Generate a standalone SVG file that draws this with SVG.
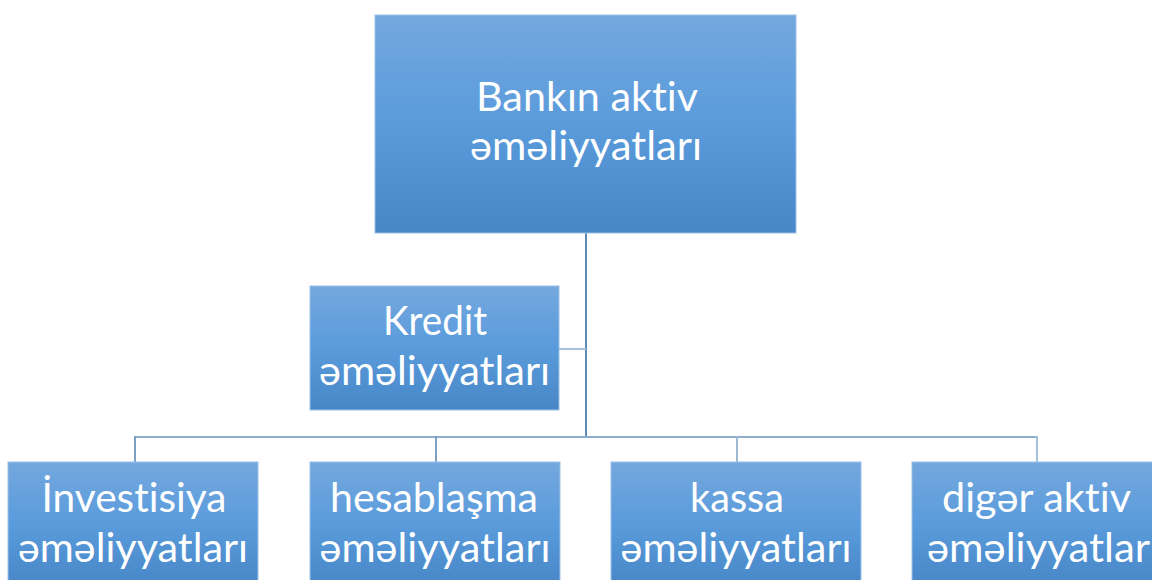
<svg xmlns="http://www.w3.org/2000/svg" width="1152" height="580" viewBox="0 0 1152 580">
  <defs>
    <linearGradient id="g" x1="0" y1="0" x2="0" y2="1">
      <stop offset="0" stop-color="#74a8de"/>
      <stop offset="0.5" stop-color="#5a9bdc"/>
      <stop offset="1" stop-color="#4787c8"/>
    </linearGradient>
    <style>
      .box { fill: url(#g); stroke: #9cc0e6; stroke-width: 1; }
      .t { font-family: Lato, "Open Sans", "Liberation Sans", sans-serif; font-size: 40px; fill: #ffffff; text-anchor: middle; font-variant-ligatures: none; font-feature-settings: "liga" 0, "dlig" 0; }
      .c { fill: none; stroke-width: 2; }
    </style>
  </defs>
  <rect width="1152" height="580" fill="#ffffff"/>
  <g id="connectors">
    <line class="c" x1="586" y1="233" x2="586" y2="438" stroke="#5f89b6"/>
    <line class="c" x1="559" y1="349" x2="586" y2="349" stroke="#a6c0d9"/>
    <line class="c" x1="135" y1="437" x2="1038" y2="437" stroke="#8eaed0"/>
    <line class="c" x1="135" y1="436" x2="135" y2="462" stroke="#7c9fc4"/>
    <line class="c" x1="436" y1="436" x2="436" y2="462" stroke="#7c9fc4"/>
    <line class="c" x1="737" y1="436" x2="737" y2="462" stroke="#9db9d6"/>
    <line class="c" x1="1037" y1="436" x2="1037" y2="462" stroke="#a6c0d9"/>
  </g>
  <g id="root">
    <rect class="box" x="375" y="15" width="421" height="218"/>
    <text class="t" x="587" y="111" textLength="222" lengthAdjust="spacingAndGlyphs">Bankın aktiv</text>
    <text class="t" x="586" y="160" textLength="232" lengthAdjust="spacingAndGlyphs">əməliyyatları</text>
  </g>
  <g id="kredit">
    <rect class="box" x="310" y="286" width="249" height="124"/>
    <text class="t" x="435" y="335" textLength="104" lengthAdjust="spacingAndGlyphs">Kredit</text>
    <text class="t" x="434.5" y="385" textLength="231" lengthAdjust="spacingAndGlyphs">əməliyyatları</text>
  </g>
  <g id="investisiya">
    <rect class="box" x="8" y="462" width="250" height="124"/>
    <text class="t" x="134" y="512" textLength="185" lengthAdjust="spacingAndGlyphs">İnvestisiya</text>
    <text class="t" x="133" y="562" textLength="230" lengthAdjust="spacingAndGlyphs">əməliyyatları</text>
  </g>
  <g id="hesablasma">
    <rect class="box" x="310" y="462" width="250" height="124"/>
    <text class="t" x="434" y="512" textLength="208" lengthAdjust="spacingAndGlyphs">hesablaşma</text>
    <text class="t" x="435" y="562" textLength="231" lengthAdjust="spacingAndGlyphs">əməliyyatları</text>
  </g>
  <g id="kassa">
    <rect class="box" x="611" y="462" width="250" height="124"/>
    <text class="t" x="737" y="512" textLength="94" lengthAdjust="spacingAndGlyphs">kassa</text>
    <text class="t" x="736" y="562" textLength="231" lengthAdjust="spacingAndGlyphs">əməliyyatları</text>
  </g>
  <g id="diger">
    <rect class="box" x="912" y="462" width="250" height="124"/>
    <text class="t" x="1036.5" y="512" textLength="189" lengthAdjust="spacingAndGlyphs">digər aktiv</text>
    <text class="t" x="927" y="562" style="text-anchor:start" textLength="223" lengthAdjust="spacingAndGlyphs">əməliyyatlar</text>
  </g>
</svg>
